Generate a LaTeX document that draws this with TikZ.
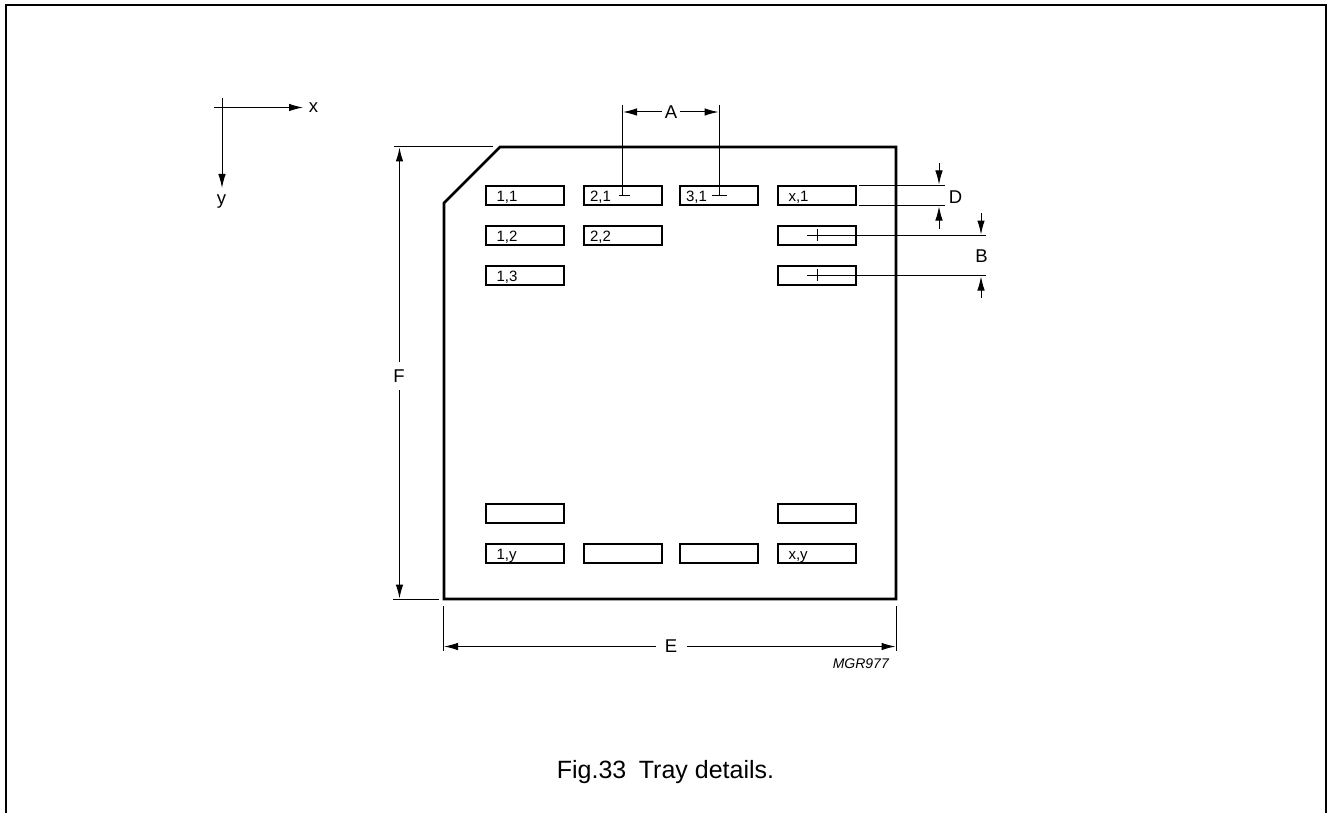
\documentclass[tikz,border=0pt]{standalone}
\usepackage{fontspec}
\setmainfont{Liberation Sans}
\usetikzlibrary{positioning,arrows.meta}

\begin{document}
\begin{tikzpicture}[
    x=1pt,
    y=-1pt,
    slot/.style={
      draw,
      line width=1.4pt,
      outer sep=0pt,
      minimum height=19pt,
      inner xsep=10.5pt,
      inner ysep=0pt,
      text width=57pt,
      align=left,
      font=\fontsize{15}{15}\selectfont,
      text height=13pt,
      text depth=2pt
    },
    slotnarrow/.style={
      slot,
      inner xsep=6pt,
      text width=66pt
    },
    dimline/.style={
      line width=1pt
    },
    dimlabel/.style={
      font=\fontsize{18.5}{18.5}\selectfont,
      inner sep=0pt
    },
    >={Latex[length=14pt,width=7.5pt]},
    node distance=21pt and 20pt
    ]
    \useasboundingbox (0,0) rectangle (1327,813);
    \draw[line width=2pt] (5.5,813) -- (5.5,5.5) -- (1325.5,5.5) -- (1325.5,813);

    % tray outline
    \draw[line width=2.6pt,line join=miter] (444,203) -- (500,147) -- (896,147) -- (896,599) -- (444,599) -- cycle;

    % slots
    \node[slot] (s11) at (525,195.5) {1,1};
    \node[slot,below=of s11] (s12) {1,2};
    \node[slot,below=of s12] (s13) {1,3};
    \node[slotnarrow,right=of s11] (s21) {2,1};
    \node[slotnarrow,below=of s21] (s22) {2,2};
    \node[slotnarrow,right=18pt of s21] (s31) {3,1};
    \node[slot,right=of s31] (sx1) {x,1};
    \node[slot,below=of sx1] (sx2) {};
    \node[slot,below=of sx2] (sx3) {};
    \node[slot] (s1p) at (525,513.5) {};
    \node[slot,below=of s1p] (s1y) {1,y};
    \node[slot,right=of s1y] (s2y) {};
    \node[slot,right=18pt of s2y] (s3y) {};
    \node[slot,right=of s3y] (sxy) {x,y};
    \node[slot,above=of sxy] (sxp) {};

    % axes
    \node[dimlabel] (xlab) at (313.5,108) {x};
    \node[dimlabel] (ylab) at (221.5,202) {y};
    \coordinate (xo) at (214,107.5);
    \coordinate (xe) at (303,107.5);
    \coordinate (yo) at (222,98);
    \coordinate (ye) at (222,188);
    \draw[->,dimline] (xo) -- (xe);
    \draw[->,dimline] (yo) -- (ye);

    % dimension A
    \node[dimlabel] (la) at (671,112) {A};
    \coordinate (a1) at (622.5,105);
    \coordinate (a2) at (622.5,195.5);
    \coordinate (a3) at (719,105);
    \coordinate (a4) at (719,195.5);
    \draw[dimline] (a1) -- (a2);
    \draw[dimline] (a3) -- (a4);
    \draw[dimline] (619,195.5) -- (630,195.5);
    \draw[dimline] (712,195.5) -- (727,195.5);
    \draw[->,dimline] (la.west) ++(-3,0) -- (623,112);
    \draw[->,dimline] (la.east) ++(3,0) -- (718.5,112);

    % dimension D
    \node[dimlabel] (ld) at (955.5,197) {D};
    \coordinate (d1) at (859,185.5);
    \coordinate (d2) at (945,185.5);
    \coordinate (d3) at (859,205.5);
    \coordinate (d4) at (945,205.5);
    \coordinate (d5) at (939,163);
    \coordinate (d6) at (939,229);
    \draw[dimline] (d1) -- (d2);
    \draw[dimline] (d3) -- (d4);
    \draw[->,dimline] (d5) -- (939,184.5);
    \draw[->,dimline] (d6) -- (939,206.5);

    % dimension B
    \node[dimlabel] (lb) at (981.5,256) {B};
    \coordinate (b1) at (807,235.5);
    \coordinate (b2) at (986,235.5);
    \coordinate (b3) at (807,275.5);
    \coordinate (b4) at (986,275.5);
    \coordinate (b5) at (981,213);
    \coordinate (b6) at (981,298);
    \draw[dimline] (b1) -- (b2);
    \draw[dimline] (b3) -- (b4);
    \draw[dimline] (817,229) -- (817,241);
    \draw[dimline] (817,269) -- (817,281);
    \draw[->,dimline] (b5) -- (981,234.5);
    \draw[->,dimline] (b6) -- (981,276.5);

    % dimension F
    \node[dimlabel] (lf) at (399,376) {F};
    \coordinate (f1) at (394,146.5);
    \coordinate (f2) at (493,146.5);
    \coordinate (f3) at (393,599.5);
    \coordinate (f4) at (439,599.5);
    \draw[dimline] (f1) -- (f2);
    \draw[dimline] (f3) -- (f4);
    \draw[->,dimline] (399.5,362) -- (399.5,147.5);
    \draw[->,dimline] (399.5,390) -- (399.5,598.5);

    % dimension E
    \node[dimlabel] (le) at (671,646.5) {E};
    \coordinate (e1) at (443,606);
    \coordinate (e2) at (443,651);
    \coordinate (e3) at (896.5,606);
    \coordinate (e4) at (896.5,651);
    \draw[dimline] (e1) -- (e2);
    \draw[dimline] (e3) -- (e4);
    \draw[->,dimline] (656,646.5) -- (444,646.5);
    \draw[->,dimline] (687,646.5) -- (895.5,646.5);

    \node[font=\fontsize{14}{14}\selectfont\itshape,inner sep=0pt,anchor=base east] (code) at (889,668) {MGR977};
    \node[font=\fontsize{25}{25}\selectfont,inner sep=0pt,anchor=base] (caption) at (665.5,778) {Fig.33\hspace{0.5em}Tray details.};
    \end{tikzpicture}
\end{document}
